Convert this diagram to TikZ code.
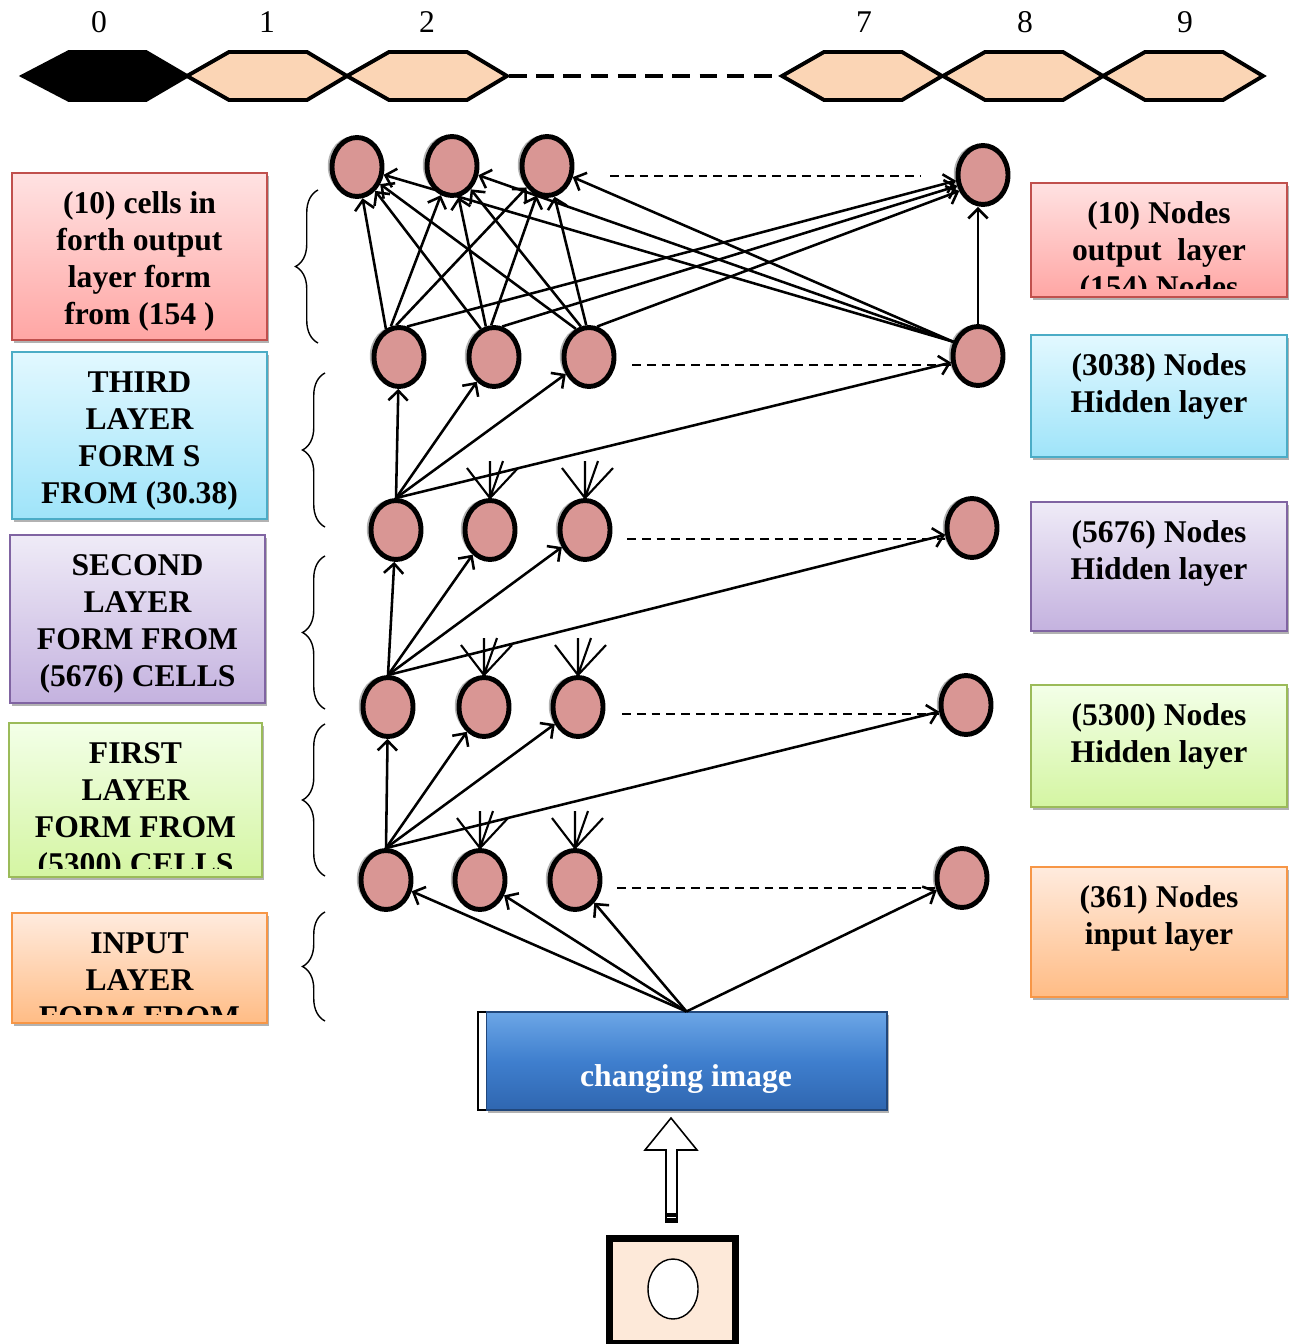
\documentclass[tikz,border=0pt]{standalone}
\usepackage{fontspec}
\setmainfont{Liberation Serif}
\usetikzlibrary{arrows.meta,shapes.geometric,shadows,decorations.pathreplacing,calc}
\definecolor{hexfill}{HTML}{FBD5B5}
\definecolor{nodefill}{HTML}{D99694}
\definecolor{camfill}{HTML}{FDE9D9}
\definecolor{redtop}{HTML}{FFE2E2}\definecolor{redbot}{HTML}{FFA6A4}\definecolor{redline}{HTML}{C0504D}
\definecolor{cyantop}{HTML}{E2F8FF}\definecolor{cyanbot}{HTML}{9FE4F9}\definecolor{cyanline}{HTML}{4BACC6}
\definecolor{purtop}{HTML}{EFEBF7}\definecolor{purbot}{HTML}{C4B2DF}\definecolor{purline}{HTML}{8064A2}
\definecolor{grntop}{HTML}{F3FFE8}\definecolor{grnbot}{HTML}{D4F5A2}\definecolor{grnline}{HTML}{9BBB59}
\definecolor{orntop}{HTML}{FFEBDE}\definecolor{ornbot}{HTML}{FFBC85}\definecolor{ornline}{HTML}{F79646}
\definecolor{bluetop}{HTML}{6CA6E6}\definecolor{bluemid}{HTML}{3F7FCE}\definecolor{bluebot}{HTML}{2F66B0}
\newcommand\nnstub[1]{\draw[stubline] (#1.north) -- ++(0,-37) (#1.north) -- ++(-23,-30) (#1.north) -- ++(28,-30) (#1.north) -- ++(13,-37);}
\begin{document}
\begin{tikzpicture}[x=0.02cm,y=-0.02cm,
  hexline/.style={line width=2.2pt, line join=miter},
  hexlab/.style={font=\fontsize{18}{21}\selectfont, inner sep=0pt},
  neuron/.style={ellipse, draw=black, line width=2.8pt, fill=nodefill, minimum width=1.0cm, minimum height=1.18cm, inner sep=0pt,
     drop shadow={shadow xshift=-2.4pt, shadow yshift=0.6pt, opacity=0.6, fill=black!50}},
  conn/.style={-{Straight Barb[length=5.5pt,width=11pt]}, line width=1.45pt},
  stubline/.style={line width=1.2pt},
  dashline/.style={line width=0.9pt, dash pattern=on 5pt off 3.4pt},
  bracestyle/.style={decorate, decoration={brace, amplitude=0.45cm}, line width=0.8pt},
  lbox/.style={rectangle, line width=1.1pt, inner sep=0pt,
     drop shadow={shadow xshift=1.2pt, shadow yshift=-1.8pt, opacity=0.3, fill=black}},
  redbox/.style={lbox, draw=redline, top color=redtop, bottom color=redbot},
  cyanbox/.style={lbox, draw=cyanline, top color=cyantop, bottom color=cyanbot},
  purbox/.style={lbox, draw=purline, top color=purtop, bottom color=purbot},
  grnbox/.style={lbox, draw=grnline, top color=grntop, bottom color=grnbot},
  ornbox/.style={lbox, draw=ornline, top color=orntop, bottom color=ornbot},
  boxtext/.style={anchor=north, inner sep=0pt, align=center, font=\fontsize{18}{21}\selectfont\bfseries}
]
\useasboundingbox (0,0) rectangle (1295,1344);

% ---------- top hexagon chain ----------
\draw[hexline, fill=black] (23,76) -- (69,52) -- (146,52) -- (187,76) -- (146,100) -- (69,100) -- cycle;
\foreach \x in {187,347,782,943,1103}{
  \draw[hexline, fill=hexfill] (\x,76) -- ++(42,-24) -- ++(78,0) -- ++(40,24) -- ++(-40,24) -- ++(-78,0) -- cycle;
}
\draw[line width=2.3pt, dash pattern=on 10pt off 5.5pt] (509,76) -- (782,76);
\node[hexlab] (n0) at (99,22) {0};
\node[hexlab] (n1) at (267,22) {1};
\node[hexlab] (n2) at (427,22) {2};
\node[hexlab] (n7) at (864,22) {7};
\node[hexlab] (n8) at (1025,22) {8};
\node[hexlab] (n9) at (1185,22) {9};

% ---------- left boxes ----------
\node[redbox, minimum width=5.1cm, minimum height=3.34cm] (L1) at (139.5,256.5) {};
\node[cyanbox, minimum width=5.1cm, minimum height=3.34cm] (L2) at (139.5,435.5) {};
\node[purbox, minimum width=5.1cm, minimum height=3.36cm] (L3) at (137.5,619) {};
\node[grnbox, minimum width=5.06cm, minimum height=3.08cm] (L4) at (135.5,800) {};
\node[ornbox, minimum width=5.1cm, minimum height=2.2cm] (L5) at (139.5,968) {};
% ---------- right boxes ----------
\node[redbox, minimum width=5.12cm, minimum height=2.28cm] (R1) at (1159,240) {};
\node[cyanbox, minimum width=5.12cm, minimum height=2.44cm] (R2) at (1159,396) {};
\node[purbox, minimum width=5.12cm, minimum height=2.58cm] (R3) at (1159,566.5) {};
\node[grnbox, minimum width=5.12cm, minimum height=2.44cm] (R4) at (1159,746) {};
\node[ornbox, minimum width=5.12cm, minimum height=2.6cm] (R5) at (1159,932) {};

\foreach \b/\t in {L1/{\strut(10) cells in\\forth output\\layer form\\from (154 )},
                   L2/{\strut THIRD\\LAYER\\FORM S\\FROM (30.38)},
                   L3/{\strut SECOND\\LAYER\\FORM FROM\\(5676) CELLS},
                   L4/{\strut FIRST\\LAYER\\FORM FROM\\(5300) CELLS},
                   L5/{\strut INPUT\\LAYER\\FORM FROM},
                   R1/{\strut(10) Nodes\\output~ layer\\(154) Nodes},
                   R2/{\strut(3038) Nodes\\Hidden layer},
                   R3/{\strut(5676) Nodes\\Hidden layer},
                   R4/{\strut(5300) Nodes\\Hidden layer},
                   R5/{\strut(361) Nodes\\input layer}}{
  \begin{scope}
    \clip ($(\b.north west)+(2,2)$) rectangle ($(\b.south east)+(-2,-9)$);
    \node[boxtext] (\b t) at ($(\b.north)+(0,15.5)$) {\t};
  \end{scope}
}

% ---------- braces ----------
\draw[bracestyle] (318,343) -- (318,190);
\draw[bracestyle] (325,527) -- (325,373);
\draw[bracestyle] (325,709) -- (325,556);
\draw[bracestyle] (325,876) -- (325,724);
\draw[bracestyle] (325,1021) -- (325,912);

% ---------- neurons ----------
\node[neuron] (r1a) at (357,167) {};
\node[neuron] (r1b) at (452,166) {};
\node[neuron] (r1c) at (547,166) {};
\node[neuron] (r1r) at (983,175) {};
\node[neuron] (r2a) at (399,357) {};
\node[neuron] (r2b) at (494,357) {};
\node[neuron] (r2c) at (589,357) {};
\node[neuron] (r2r) at (978,356) {};
\node[neuron] (r3a) at (396,530) {};
\node[neuron] (r3b) at (490,530) {};
\node[neuron] (r3c) at (585,530) {};
\node[neuron] (r3r) at (972,528) {};
\node[neuron] (r4a) at (388,707) {};
\node[neuron] (r4b) at (484,707) {};
\node[neuron] (r4c) at (578,707) {};
\node[neuron] (r4r) at (966,705) {};
\node[neuron] (r5a) at (386,880) {};
\node[neuron] (r5b) at (480,880) {};
\node[neuron] (r5c) at (575,880) {};
\node[neuron] (r5r) at (962,878) {};

% ---------- dashed row continuations ----------
\coordinate (d1a) at (610,176); \coordinate (d1b) at (920,176);
\coordinate (d2a) at (632,365); \coordinate (d3a) at (627,539);
\coordinate (d4a) at (622,714); \coordinate (d5a) at (617,888);
\draw[dashline] (d1a) -- (d1b);
\draw[dashline] (d2a) -- (d2a -| r2r.west);
\draw[dashline] (d3a) -- (d3a -| r3r.west);
\draw[dashline] (d4a) -- (d4a -| r4r.west);
\draw[dashline] (d5a) -- (d5a -| r5r.west);

% ---------- image box ----------
\node[rectangle, draw=black, line width=0.8pt, fill=white, minimum width=8.18cm, minimum height=1.96cm, inner sep=0pt] (imgback) at (682.5,1061) {};
\node[rectangle, draw=bluebot!70!black, line width=0.6pt, inner sep=0pt, minimum width=8.02cm, minimum height=1.96cm,
      top color=bluetop, bottom color=bluebot, middle color=bluemid,
      drop shadow={shadow xshift=1.2pt, shadow yshift=-1.8pt, opacity=0.3, fill=black}] (img) at (686.5,1061) {};
\node[font=\fontsize{18}{21}\selectfont\bfseries, text=white, inner sep=0pt] (imgt) at (686,1079) {changing image};

% ---------- arrows ----------
\foreach \t in {r5a,r5b,r5c,r5r}{ \draw[conn] (img.north) -- (\t); }
\foreach \t in {r4a,r4b,r4c,r4r}{ \draw[conn] (r5a.north) -- (\t); }
\foreach \t in {r3a,r3b,r3c,r3r}{ \draw[conn] (r4a.north) -- (\t); }
\foreach \t in {r2a,r2b,r2c,r2r}{ \draw[conn] (r3a.north) -- (\t); }
\foreach \s/\e in {r2a/192,r2b/203,r2c/214}{
  \draw[conn] (\s.115) -- (r1a);
  \draw[conn] (\s.105) -- (r1b);
  \draw[conn] (\s.95) -- (r1c);
  \draw[conn] (\s.75) -- (r1r.\e);
}
\foreach \t in {r1a,r1b,r1c}{ \draw[conn] (r2r.150) -- (\t); }
\draw[conn] (r2r.north) -- (r2r.north |- r1r.south);

% ---------- converging stubs ----------
\nnstub{r3b}\nnstub{r3c}\nnstub{r4b}\nnstub{r4c}\nnstub{r5b}\nnstub{r5c}

% ---------- camera and hollow arrow ----------
\node[rectangle, draw=black, line width=4pt, fill=camfill, minimum width=2.52cm, minimum height=2.1cm, inner sep=0pt] (cam) at (672.5,1291) {};
\node[ellipse, draw=black, line width=0.8pt, fill=white, minimum width=1.0cm, minimum height=1.2cm, inner sep=0pt] (lens) at (673,1289) {};
\draw[line width=0.9pt, fill=white, line join=miter] (666,1222) -- (666,1150) -- (645,1150) -- (671,1118) -- (697,1150) -- (677,1150) -- (677,1222) -- cycle;
\fill (666,1213) rectangle (677,1222);
\draw[white, line width=0.5pt] (667,1217) -- (676,1217);
\end{tikzpicture}
\end{document}
